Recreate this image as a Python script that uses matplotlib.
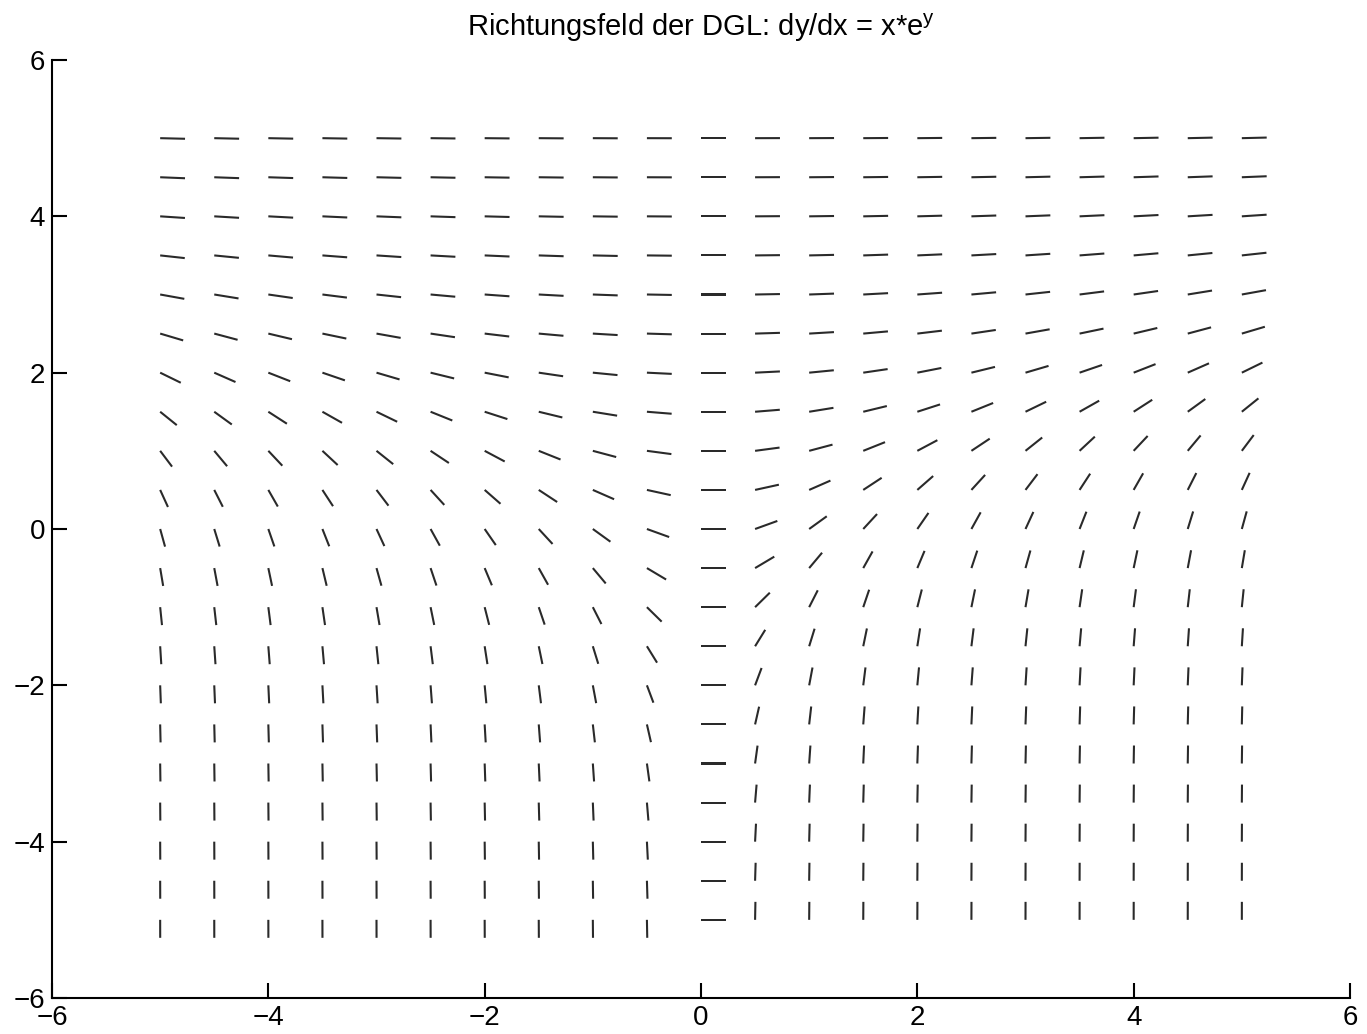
import numpy as np
import matplotlib
matplotlib.use("Agg")
import matplotlib.pyplot as plt

plt.rcParams['font.family'] = ['Liberation Sans', 'DejaVu Sans']

# grid of the direction field
x_values = [-5.0, -4.5, -4.0, -3.5, -3.0, -2.5, -2.0, -1.5, -1.0, -0.5, 0.0,
            0.5, 1.0, 1.5, 2.0, 2.5, 3.0, 3.5, 4.0, 4.5, 5.0]
y_values = [-5.0, -4.5, -4.0, -3.5, -3.0, -2.5, -2.0, -1.5, -1.0, -0.5, 0.0,
            0.5, 1.0, 1.5, 2.0, 2.5, 3.0, 3.5, 4.0, 4.5, 5.0]
segment_length = 0.23
ticks = [-6, -4, -2, 0, 2, 4, 6]


def slope(x, y):
    # slope field as drawn in the figure
    return x * np.exp(-y)


X, Y = np.meshgrid(np.array(x_values), np.array(y_values))
F = slope(X, Y)
N = np.sqrt(1.0 + F ** 2)
U = segment_length / N
V = segment_length * F / N

fig = plt.figure(figsize=(13.67, 10.34), dpi=100)
ax = fig.add_axes([52 / 1367, 36 / 1034, 1298 / 1367, 938 / 1034])

ax.quiver(X, Y, U, V, angles='xy', scale_units='xy', scale=1, pivot='tail',
          headwidth=0, headlength=0, headaxislength=0,
          width=0.0016, color='#2a2a2a')

ax.set_xlim(-6, 6)
ax.set_ylim(-6, 6)
ax.set_xticks(ticks)
ax.set_yticks(ticks)
ax.spines['top'].set_visible(False)
ax.spines['right'].set_visible(False)
for s in ['left', 'bottom']:
    ax.spines[s].set_linewidth(1.5)
ax.tick_params(direction='in', length=11, width=1.5, labelsize=20)
ax.tick_params(axis='x', pad=5)
ax.tick_params(axis='y', pad=5)

ax.set_title(r'Richtungsfeld der DGL: dy/dx = x*e$^{\mathregular{y}}$',
             fontsize=21, pad=17)

fig.savefig('out.png', dpi=100)
